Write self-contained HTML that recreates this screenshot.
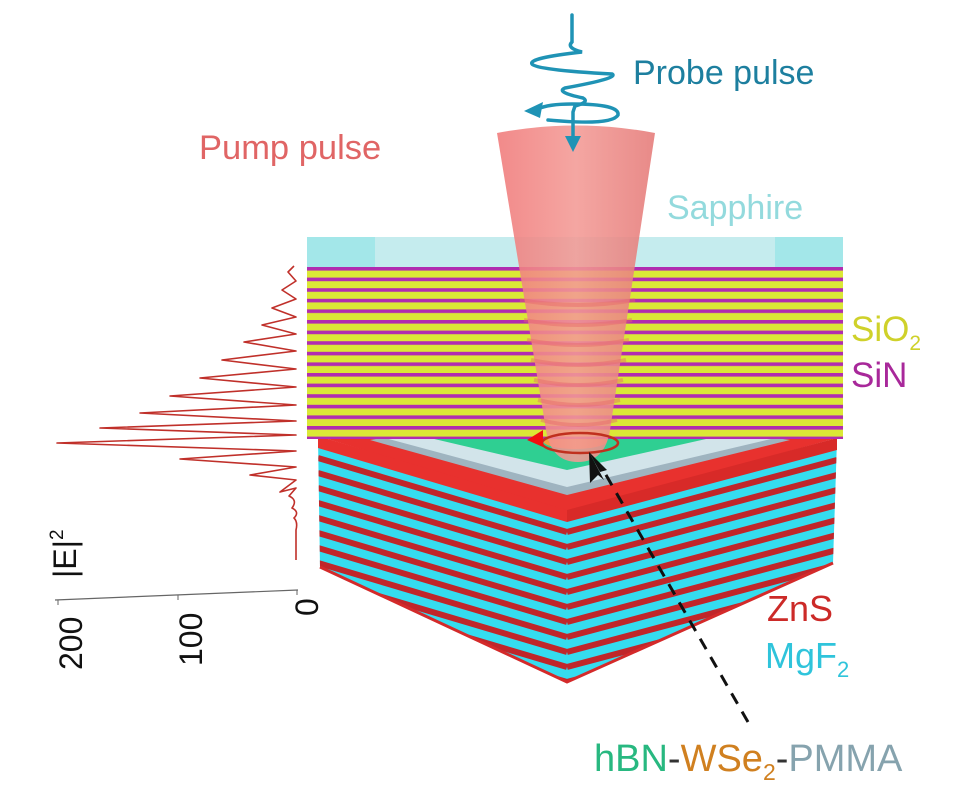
<!DOCTYPE html>
<html><head><meta charset="utf-8"><style>
html,body{margin:0;padding:0;background:#fff;}
svg{display:block;font-family:"Liberation Sans",sans-serif;}
</style></head><body>
<svg width="956" height="795" viewBox="0 0 956 795" xmlns="http://www.w3.org/2000/svg">
<defs>
<pattern id="upper" patternUnits="userSpaceOnUse" width="20" height="10.6" y="267">
<rect width="20" height="10.6" fill="#dbe836"/>
<rect width="20" height="3.6" fill="#b12cb0"/>
</pattern>
<clipPath id="lf"><polygon points="318,438 567,512 567,682 320,567"/></clipPath>
<clipPath id="rf"><polygon points="567,512 837,440 833,563 567,682"/></clipPath>
<linearGradient id="beam" x1="0" x2="1" y1="0" y2="0">
<stop offset="0" stop-color="#f07a7a"/><stop offset="0.5" stop-color="#f39a95"/><stop offset="1" stop-color="#e57a78"/>
</linearGradient>
</defs>

<g clip-path="url(#lf)">
<rect x="310" y="420" width="270" height="280" fill="#35dcef"/>
<g stroke="#c0262a" stroke-width="6" fill="none">
<polyline points="318,458 567,532"/><polyline points="318,473 567,547"/><polyline points="318,488 567,562"/><polyline points="318,503 567,577"/><polyline points="318,518 567,592"/><polyline points="318,533 567,607"/><polyline points="318,548 567,622"/><polyline points="318,563 567,637"/><polyline points="318,578 567,652"/><polyline points="318,593 567,667"/><polyline points="318,608 567,682"/>
</g></g>
<g clip-path="url(#rf)">
<rect x="560" y="420" width="290" height="280" fill="#35dcef"/>
<g stroke="#c0262a" stroke-width="6" fill="none">
<polyline points="567,532 837,460"/><polyline points="567,547 837,475"/><polyline points="567,562 837,490"/><polyline points="567,577 837,505"/><polyline points="567,592 837,520"/><polyline points="567,607 837,535"/><polyline points="567,622 837,550"/><polyline points="567,637 837,565"/><polyline points="567,652 837,580"/><polyline points="567,667 837,595"/><polyline points="567,682 837,610"/>
</g></g>
<polyline points="320,567 567,682 833,563" fill="none" stroke="#d42a2a" stroke-width="3"/>
<polygon points="318,436 560,398 837,438 567,512" fill="#e8312e"/>
<polygon points="318,436 567,510 567,522 318,448" fill="#e8312e"/>
<polygon points="567,510 837,438 837,450 567,522" fill="#d82a28"/>
<polygon points="370,440 560,408 790,440 567,495" fill="#9fb4c0"/>
<polygon points="385,438 560,410 775,438 567,487" fill="#d2e4ea"/>
<polygon points="430,438 560,418 715,437 567,470" fill="#2fcf92"/>
<ellipse cx="575" cy="441" rx="32" ry="8" fill="#f0a040"/>

<rect x="307" y="267" width="536" height="172" fill="url(#upper)"/>
<rect x="307" y="237" width="536" height="30" fill="#a3e7e9"/>
<rect x="375" y="237" width="400" height="30" fill="#c5ecee"/>

<path d="M497,133 Q576,118 655,133 L610,430 Q605,462 578,462 Q551,462 546,430 Z" fill="url(#beam)" opacity="0.88"/>
<g stroke="#e8676c" stroke-width="4" opacity="0.45" fill="none">
<path d="M520,300 Q578,310 635,300"/><path d="M524,320 Q578,330 632,320"/><path d="M527,340 Q578,350 629,340"/><path d="M531,360 Q578,370 626,360"/><path d="M534,380 Q578,390 623,380"/><path d="M538,400 Q578,410 620,400"/><path d="M541,420 Q578,430 617,420"/>
</g>

<ellipse cx="580" cy="443" rx="38" ry="10" fill="none" stroke="#c0301e" stroke-width="2.5"/>
<polygon points="527,440 543,430 543,447" fill="#f01010"/>

<line x1="748" y1="722" x2="602" y2="468" stroke="#111" stroke-width="3" stroke-dasharray="12,9"/>
<polygon points="589,452 604,480 598,475 590,483" fill="#111"/>
<polygon points="589,452 607,470 600,472" fill="#111"/>

<g stroke="#1f93b5" stroke-width="3.5" fill="none" stroke-linecap="round">
<path d="M572,15 L572,42 Q566,48 582,52 Q528,58 532,64 Q536,70 612,74 Q620,78 565,88 Q555,92 583,98 Q590,102 575,106 L573,112 L573,140"/>
<path d="M548,120 Q612,126 618,115 Q620,104 572,104 Q548,104 538,109"/>
</g>
<polygon points="524,111 543,102 540,118" fill="#1f93b5"/>
<polygon points="565,136 581,136 573,152" fill="#1f93b5"/>

<path d="M296,560 L296,530 Q298,522 294,518 Q300,512 292,508 Q298,500 289,496 L296,488 L280,492 L296,480 L250,475 L296,467 L180,459 L296,451 L57,443 L296,435 L100,428 L296,421 L140,413 L296,405 L170,396 L296,387 L200,378 L296,369 L222,360 L296,351 L244,342 L296,334 L262,325 L296,317 L272,308 L296,299 L282,290 L296,281 L288,272 L294,266" fill="none" stroke="#c0302a" stroke-width="1.6" stroke-linejoin="round"/>
<line x1="55" y1="600" x2="298" y2="590" stroke="#666" stroke-width="1.2"/>
<line x1="58" y1="600" x2="58" y2="605" stroke="#666"/><line x1="178" y1="595" x2="178" y2="600" stroke="#666"/><line x1="297" y1="590" x2="297" y2="595" stroke="#666"/>
<g font-size="32" fill="#111">
<text transform="translate(82,670) rotate(-90)">200</text>
<text transform="translate(202,666) rotate(-90)">100</text>
<text transform="translate(318,616) rotate(-90)">0</text>
<text transform="translate(76,578) rotate(-90)">|E|<tspan font-size="19" dy="-13">2</tspan></text>
</g>

<text x="199" y="159" font-size="34.5" fill="#e06565">Pump pulse</text>
<text x="633" y="84" font-size="34" fill="#1d7f9f">Probe pulse</text>
<text x="667" y="219" font-size="34" fill="#93dadd">Sapphire</text>
<text x="851" y="341" font-size="35" fill="#cfd12a">SiO<tspan font-size="21" dy="9">2</tspan></text>
<text x="851" y="387" font-size="35" fill="#a8289a">SiN</text>
<text x="767" y="621" font-size="36" fill="#cc2a28">ZnS</text>
<text x="765" y="668" font-size="36" fill="#2fc4db">MgF<tspan font-size="22" dy="9">2</tspan></text>
<text x="594" y="771" font-size="38"><tspan fill="#28b880">hBN</tspan><tspan fill="#333">-</tspan><tspan fill="#d08020">WSe</tspan><tspan fill="#d08020" font-size="23" dy="9">2</tspan><tspan fill="#333" dy="-9">-</tspan><tspan fill="#86a3ae">PMMA</tspan></text>
</svg>
</body></html>
